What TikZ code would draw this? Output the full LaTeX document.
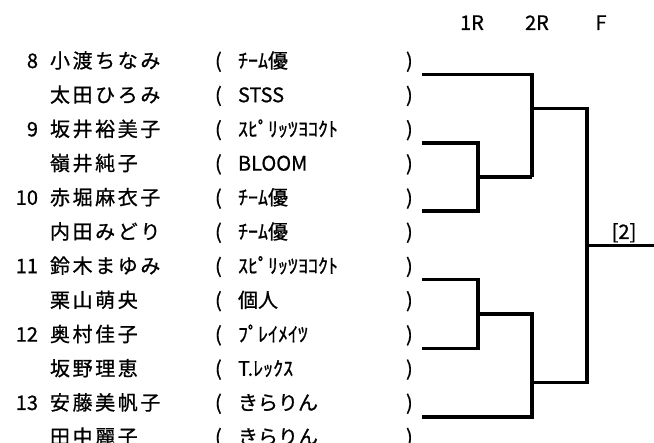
\documentclass[tikz,border=0pt]{standalone}
\usepackage{fontspec}
\setmainfont[FakeBold=0.8]{Noto Sans CJK JP}
\newfontfamily\namefont[LetterSpace=13, FakeBold=0.8]{Noto Sans CJK JP}
\usepackage{tikz}
\usetikzlibrary{positioning, calc}

\tikzset{
  txt/.style={inner sep=0pt, outer sep=0pt},
  seed/.style={txt, anchor=base east},
  player/.style={txt, anchor=base west, font=\fontsize{20}{24}\namefont},
  club/.style={txt, anchor=base west},
  bracket/.style={line width=3.4pt, line join=miter}
}

\begin{document}
\begin{tikzpicture}[x=1pt, y=-1pt, font=\fontsize{20}{24}\selectfont]
\useasboundingbox (0,0) rectangle (654,443);

% round headers
\node[txt, anchor=base] (hd1) at (472,30) {1R};
\node[txt, anchor=base] (hd2) at (537,30) {2R};
\node[txt, anchor=base] (hdf) at (601,30) {F};

% players
\foreach \i/\num/\name/\team in {
  1/8/小渡ちなみ/ﾁｰﾑ優,
  2//太田ひろみ/STSS,
  3/9/坂井裕美子/ｽﾋﾟﾘｯﾂﾖｺｸﾄ,
  4//嶺井純子/BLOOM,
  5/10/赤堀麻衣子/ﾁｰﾑ優,
  6//内田みどり/ﾁｰﾑ優,
  7/11/鈴木まゆみ/ｽﾋﾟﾘｯﾂﾖｺｸﾄ,
  8//栗山萌央/個人,
  9/12/奥村佳子/ﾌﾟﾚｲﾒｲﾂ,
  10//坂野理恵/T.ﾚｯｸｽ,
  11/13/安藤美帆子/きらりん,
  12//田中麗子/きらりん}{
  \pgfmathsetmacro{\yb}{68+34.2*(\i-1)}
  \node[seed] (num\i) at (38,\yb) {\num};
  \node[player] (name\i) at (50,\yb) {\name};
  \node[club] (op\i) at (215,\yb) {(};
  \node[club] (team\i) at (238,\yb) {\team};
  \node[club] (cp\i) at (406,\yb) {)};
}

% entry points
\coordinate (e1) at (422,74.3);
\coordinate (e2) at (422,142.9);
\coordinate (e3) at (422,211.2);
\coordinate (e4) at (422,279.8);
\coordinate (e5) at (422,348.4);
\coordinate (e6) at (422,417.0);

% junctions
\coordinate (w1) at (478,177.0);
\coordinate (j1) at (532,177.0);
\coordinate (w2) at (532,108.6);
\coordinate (w3) at (478,314.1);
\coordinate (j2) at (532,314.1);
\coordinate (w4) at (532,382.7);
\coordinate (fin) at (587,245.5);
\coordinate (out) at (654,245.5);

\draw[bracket] (e2) -| (w1) |- (e3);
\draw[bracket] (w1) -- (j1);
\draw[bracket] (e1) -| (j1);
\draw[bracket] (e4) -| (w3) |- (e5);
\draw[bracket] (w3) -- (j2) |- (e6);
\draw[bracket] (w2) -| (fin) |- (w4);
\draw[bracket] (fin) -- (out);

\node[txt, anchor=base] (champ) at (624,239) {[2]};

\end{tikzpicture}
\end{document}
